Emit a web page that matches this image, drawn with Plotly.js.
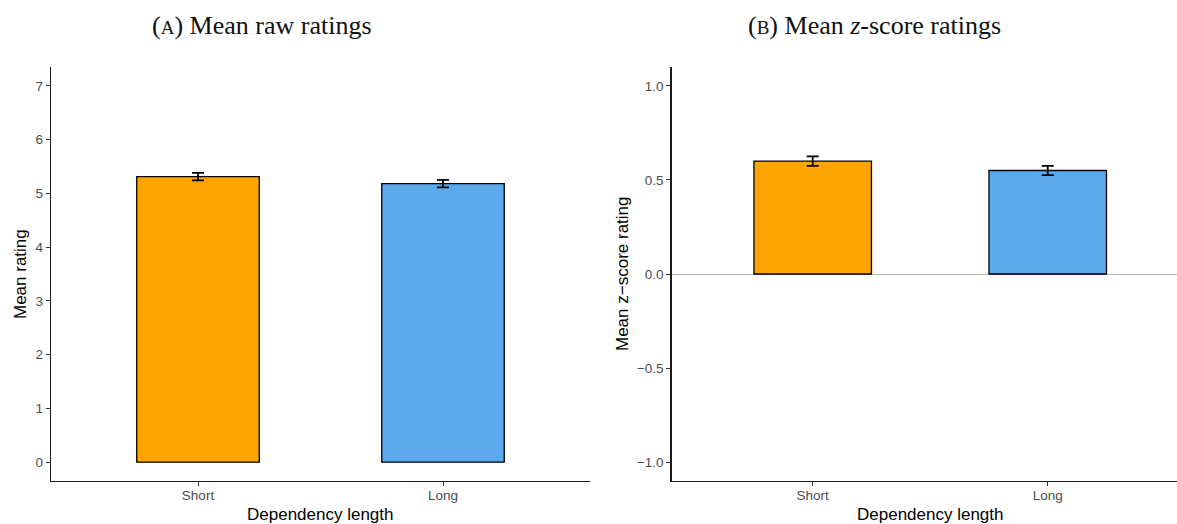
<!DOCTYPE html>
<html>
<head>
<meta charset="utf-8">
<script src="https://cdn.plot.ly/plotly-3.0.1.min.js"></script>
<style>
  html, body { margin: 0; padding: 0; background: #fff; }
  #chart { width: 1177px; height: 524px; }
</style>
</head>
<body>
<div id="chart"></div>
<script>
// Dependency-length conditions
const categories = ['Short', 'Long'];
const barColors = ['#FFA500', '#5CA9EC'];

// Panel A: mean raw ratings (1-7 scale) with standard errors
const rawMeans = [5.31, 5.18];
const rawSE = [0.07, 0.07];

// Panel B: mean z-score ratings with standard errors
const zMeans = [0.60, 0.55];
const zSE = [0.025, 0.025];

// Tick labels
const rawTicks = [0, 1, 2, 3, 4, 5, 6, 7];
const zTicks = [-1.0, -0.5, 0.0, 0.5, 1.0];
const zTickText = ['\u22121.0', '\u22120.5', '0.0', '0.5', '1.0'];

const W = 1177, H = 524;
const px = v => v / W;
const py = v => 1 - v / H;

const tickFont = { family: 'Liberation Sans, Arial, sans-serif', size: 13.5, color: '#4d4d4d' };
const titleFont = { family: 'Liberation Sans, Arial, sans-serif', size: 17, color: '#000' };
const headFont = { family: 'Liberation Serif, Times New Roman, serif', size: 26, color: '#111' };

function barTrace(vals, errs, xa, ya) {
  return {
    type: 'bar',
    x: categories,
    y: vals,
    xaxis: xa,
    yaxis: ya,
    width: 0.5,
    marker: { color: barColors, line: { color: '#000', width: 1.3 } },
    error_y: { type: 'data', array: errs, visible: true, color: '#000', thickness: 1.8, width: 6 },
    hoverinfo: 'skip',
    showlegend: false
  };
}

const axisCommon = {
  showgrid: false,
  showline: true,
  linecolor: '#1a1a1a',
  linewidth: 1.4,
  ticks: 'outside',
  ticklen: 4,
  tickwidth: 1,
  tickcolor: '#333',
  tickfont: tickFont,
  fixedrange: true
};

const layout = {
  width: W,
  height: H,
  margin: { l: 0, r: 0, t: 0, b: 0 },
  paper_bgcolor: '#fff',
  plot_bgcolor: '#fff',
  bargap: 0,
  xaxis: Object.assign({}, axisCommon, {
    domain: [px(51), px(590)],
    anchor: 'y',
    type: 'category',
    categoryorder: 'array',
    categoryarray: categories,
    range: [-0.6, 1.6],
    zeroline: false,
    ticklabelstandoff: -3
  }),
  yaxis: Object.assign({}, axisCommon, {
    domain: [py(481), py(67)],
    anchor: 'x',
    range: [-0.35, 7.35],
    tickvals: rawTicks,
    zeroline: false
  }),
  xaxis2: Object.assign({}, axisCommon, {
    domain: [px(671.7), 1],
    anchor: 'y2',
    type: 'category',
    categoryorder: 'array',
    categoryarray: categories,
    range: [-0.6, 1.55],
    zeroline: false,
    ticklabelstandoff: -3
  }),
  yaxis2: Object.assign({}, axisCommon, {
    domain: [py(481), py(67)],
    anchor: 'x2',
    range: [-1.1, 1.1],
    tickvals: zTicks,
    ticktext: zTickText,
    zeroline: true,
    zerolinecolor: '#b3b3b3',
    zerolinewidth: 1
  }),
  annotations: [
    { text: '(<span style="font-size:19px">A</span>) Mean raw ratings', xref: 'paper', yref: 'paper',
      x: px(262), y: py(25), xanchor: 'center', yanchor: 'middle', showarrow: false, font: headFont },
    { text: '(<span style="font-size:19px">B</span>) Mean <i>z</i>-score ratings', xref: 'paper', yref: 'paper',
      x: px(874), y: py(25), xanchor: 'center', yanchor: 'middle', showarrow: false, font: headFont },
    { text: 'Mean rating', xref: 'paper', yref: 'paper', textangle: -90,
      x: px(20), y: py(274), xanchor: 'center', yanchor: 'middle', showarrow: false, font: titleFont },
    { text: 'Mean z\u2212score rating', xref: 'paper', yref: 'paper', textangle: -90,
      x: px(622), y: py(274), xanchor: 'center', yanchor: 'middle', showarrow: false, font: titleFont },
    { text: 'Dependency length', xref: 'paper', yref: 'paper',
      x: px(320), y: py(514), xanchor: 'center', yanchor: 'middle', showarrow: false, font: titleFont },
    { text: 'Dependency length', xref: 'paper', yref: 'paper',
      x: px(930), y: py(514), xanchor: 'center', yanchor: 'middle', showarrow: false, font: titleFont }
  ]
};

Plotly.newPlot('chart', [
  barTrace(rawMeans, rawSE, 'x', 'y'),
  barTrace(zMeans, zSE, 'x2', 'y2')
], layout, { staticPlot: true, displayModeBar: false });
</script>
</body>
</html>
